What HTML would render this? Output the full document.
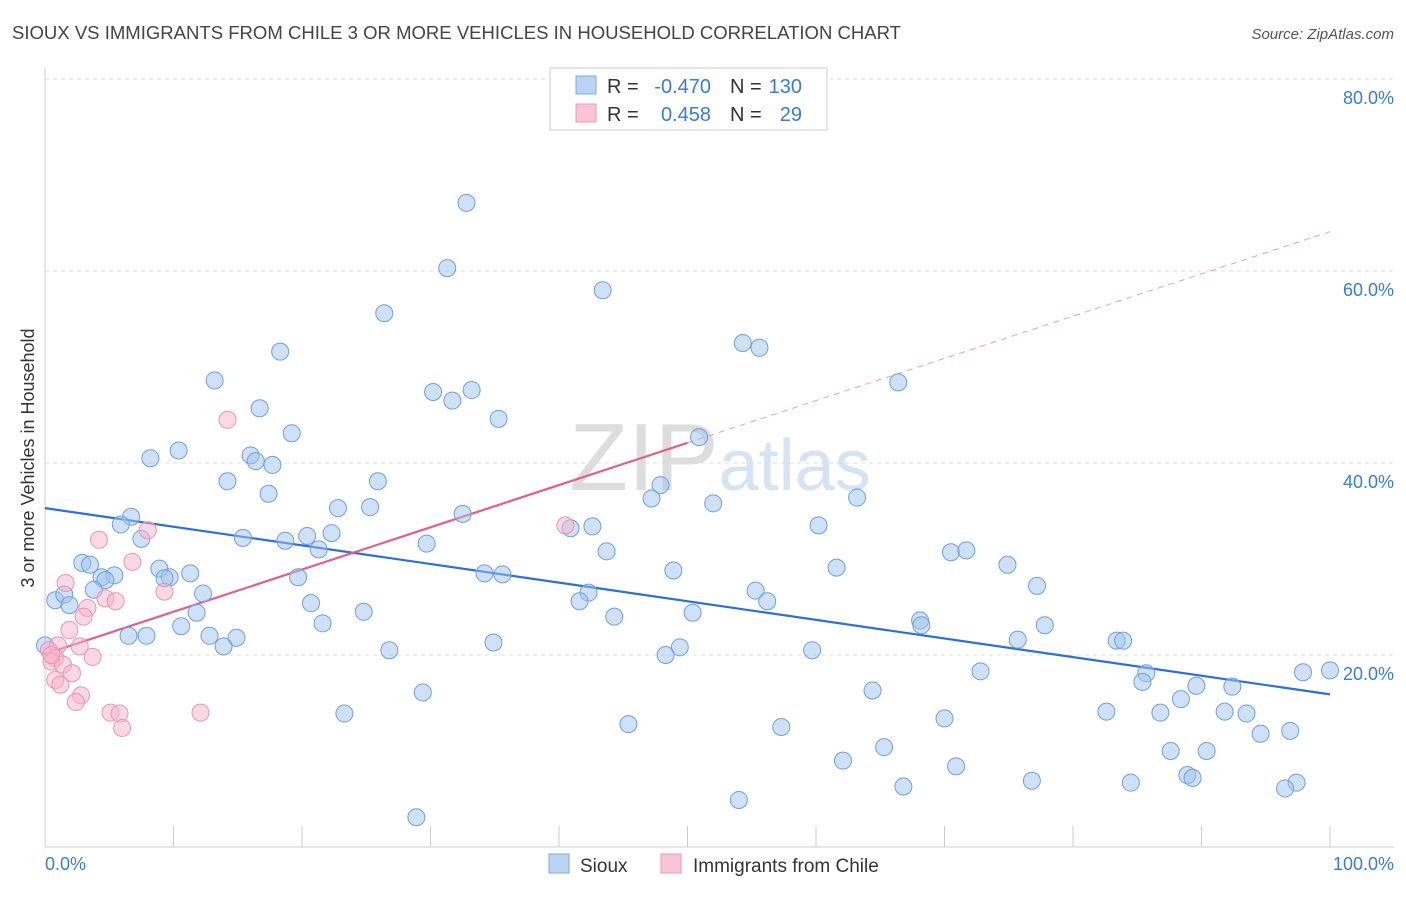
<!DOCTYPE html>
<html><head><meta charset="utf-8"><style>
body{margin:0;background:#fff;font-family:"Liberation Sans",sans-serif;}
svg text{font-family:"Liberation Sans",sans-serif;}
</style></head><body>
<svg id="chart" width="1406" height="892" viewBox="0 0 1406 892" xmlns="http://www.w3.org/2000/svg">
<text x="12" y="39" font-size="18.5" fill="#444" textLength="889" lengthAdjust="spacingAndGlyphs">SIOUX VS IMMIGRANTS FROM CHILE 3 OR MORE VEHICLES IN HOUSEHOLD CORRELATION CHART</text>
<text x="1394" y="39" font-size="15" fill="#555" text-anchor="end" font-style="italic">Source: ZipAtlas.com</text>
<text x="720" y="490" font-size="96" fill="#e4e4e4" text-anchor="middle" font-family="Liberation Serif"><tspan fill="#dddddd">ZIP</tspan><tspan fill="#d6e3f3" font-family="Liberation Sans" font-size="72">atlas</tspan></text>
<g id="grid"></g><g id="axes"></g><g id="trends"></g><g id="points"></g>
<text transform="translate(34,458) rotate(-90)" font-size="18" fill="#333" text-anchor="middle">3 or more Vehicles in Household</text>
<text x="45" y="870" font-size="18" fill="#3a7bd5">0.0%</text>
<text x="1394" y="870" font-size="18" fill="#3a7bd5" text-anchor="end">100.0%</text>
<g>
<rect x="550" y="68" width="277" height="62" fill="#fff" stroke="#ccc"/>
<rect x="576" y="76" width="20" height="18" fill="#bcd4f3" stroke="#7ea8e3"/>
<rect x="576" y="104" width="20" height="18" fill="#f9c5d5" stroke="#eb98b2"/>
<text x="607" y="93" font-size="20" fill="#333">R =</text>
<text x="711" y="93" font-size="20" fill="#3a7bd5" text-anchor="end">-0.470</text>
<text x="730" y="93" font-size="20" fill="#333">N =</text>
<text x="802" y="93" font-size="20" fill="#3a7bd5" text-anchor="end">130</text>
<text x="607" y="121" font-size="20" fill="#333">R =</text>
<text x="711" y="121" font-size="20" fill="#3a7bd5" text-anchor="end">0.458</text>
<text x="730" y="121" font-size="20" fill="#333">N =</text>
<text x="802" y="121" font-size="20" fill="#3a7bd5" text-anchor="end">29</text>
</g>
<g>
<rect x="549" y="854" width="20" height="19" fill="#bcd4f3" stroke="#7ea8e3"/>
<text x="580" y="872" font-size="19" fill="#333">Sioux</text>
<rect x="661" y="854" width="20" height="19" fill="#f9c5d5" stroke="#eb98b2"/>
<text x="693" y="872" font-size="19" fill="#333">Immigrants from Chile</text>
</g>
</svg>
<script>
const yTicks=[20,40,60,80];
const yTickLabels=["20.0%","40.0%","60.0%","80.0%"];
const xTicks=[0,10,20,30,40,50,60,70,80,90,100];
const siouxX=[32.8,31.3,43.4,26.4,18.3,54.3,55.6,13.2,66.4,30.2,33.2,31.7,16.7,35.3,19.2,50.9,10.4,8.2,16.0,16.4,17.7,14.2,25.9,17.4,47.9,47.2,63.2,52.0,22.8,25.3,32.5,6.7,5.9,42.6,60.2,40.9,7.5,15.4,18.7,20.4,22.3,29.7,21.3,43.7,70.5,71.7,74.9,2.9,3.5,8.9,61.6,48.9,4.4,5.4,9.7,9.3,11.3,4.7,34.2,35.6,19.7,77.2,3.8,0.8,1.5,1.9,12.3,42.3,55.3,41.6,56.2,20.7,50.4,11.8,24.8,44.3,68.1,68.2,21.6,10.6,77.8,6.5,7.9,12.8,14.9,13.9,75.7,83.4,83.9,34.9,49.4,48.3,26.8,59.7,0.0,97.9,100,72.8,85.7,85.4,89.6,92.4,64.4,88.4,29.4,23.3,70.0,82.6,86.8,91.8,93.5,45.4,57.3,96.9,94.6,65.3,87.6,90.4,62.1,70.9,88.9,89.3,76.8,84.5,97.4,96.5,66.8,54.0,28.9];
const siouxY=[67.1,60.3,58.0,55.6,51.6,52.5,52.0,48.6,48.4,47.4,47.6,46.5,45.7,44.6,43.1,42.7,41.3,40.5,40.8,40.2,39.8,38.1,38.1,36.8,37.7,36.3,36.4,35.8,35.3,35.4,34.7,34.4,33.6,33.4,33.5,33.2,32.1,32.2,31.9,32.4,32.7,31.6,31.0,30.8,30.7,30.9,29.4,29.6,29.4,29.0,29.1,28.8,28.1,28.3,28.1,28.0,28.5,27.8,28.5,28.4,28.1,27.2,26.8,25.7,26.3,25.2,26.4,26.5,26.7,25.6,25.6,25.4,24.4,24.4,24.5,24.0,23.6,23.1,23.3,23.0,23.1,22.0,22.0,22.0,21.8,20.9,21.6,21.5,21.5,21.3,20.8,20.0,20.5,20.5,21.0,18.2,18.4,18.3,18.1,17.2,16.8,16.7,16.3,15.4,16.1,13.9,13.4,14.1,14.0,14.1,13.9,12.8,12.5,12.1,11.8,10.4,10.0,10.0,9.0,8.4,7.5,7.2,6.9,6.7,6.7,6.1,6.3,4.9,3.1];
const chileX=[14.2,8.0,40.5,4.2,6.8,1.6,9.3,4.7,5.5,3.3,3.0,1.9,1.0,2.7,0.3,3.7,0.8,0.5,1.4,2.1,0.8,1.2,2.8,2.4,5.1,5.8,12.1,6.0,0.5];
const chileY=[44.5,33.0,33.5,32.0,29.7,27.5,26.6,25.9,25.6,24.9,24.0,22.6,21.0,20.9,20.5,19.8,19.7,19.3,19.0,18.1,17.4,16.9,15.8,15.1,14.0,13.9,14.0,12.4,20.0];
const siouxTrend=[35.3,15.9];
const chileTrend=[20.1,64.1];
const chileSolidEnd=50;

const X0=45,X1=1330,Y0=847,YS=9.6;
const sx=v=>X0+(X1-X0)*v/100;
const sy=v=>Y0-v*YS;
const NS="http://www.w3.org/2000/svg";
function mk(tag,attrs,parent){const e=document.createElementNS(NS,tag);for(const k in attrs)e.setAttribute(k,attrs[k]);parent.appendChild(e);return e;}
const grid=document.getElementById('grid'),axes=document.getElementById('axes'),trends=document.getElementById('trends'),pts=document.getElementById('points');
yTicks.forEach((t,i)=>{
 const l=mk('line',{x1:45,x2:1394,y1:sy(t),y2:sy(t),stroke:'#ddd','stroke-dasharray':'4,4'},grid);
 
 
 const tx=mk('text',{x:1394,y:sy(t)+25,'font-size':18,fill:'#3a7bd5','text-anchor':'end'},grid);
 tx.textContent=yTickLabels[i];
 
 
});
const tl=mk('line',{x1:45,x2:1394,y1:79,y2:79,stroke:'#ddd','stroke-dasharray':'4,4'},grid);


const ya=mk('line',{x1:45,x2:45,y1:68,y2:847,stroke:'#ccc'},axes);


const xa=mk('line',{x1:45,x2:1394,y1:847,y2:847,stroke:'#ccc'},axes);


xTicks.forEach(t=>{
 const l=mk('line',{x1:sx(t),x2:sx(t),y1:826,y2:847,stroke:'#ccc'},axes);
 
 
});
siouxX.forEach((x,i)=>{
 const c=mk('circle',{cx:sx(x),cy:sy(siouxY[i]),r:8.5,fill:'rgba(160,196,240,0.5)',stroke:'#6f9fe0','stroke-width':1},pts);
 
 
});
chileX.forEach((x,i)=>{
 const c=mk('circle',{cx:sx(x),cy:sy(chileY[i]),r:8.5,fill:'rgba(247,180,202,0.5)',stroke:'#e895b0','stroke-width':1},pts);
 
 
});
const bl=mk('line',{x1:sx(0),y1:sy(siouxTrend[0]),x2:sx(100),y2:sy(siouxTrend[1]),stroke:'#2d6fd6','stroke-width':2.2},trends);


const cm=chileTrend[0]+(chileTrend[1]-chileTrend[0])*chileSolidEnd/100;
const pl=mk('line',{x1:sx(0),y1:sy(chileTrend[0]),x2:sx(chileSolidEnd),y2:sy(cm),stroke:'#e0608a','stroke-width':2.2},trends);


const pd=mk('line',{x1:sx(chileSolidEnd),y1:sy(cm),x2:sx(100),y2:sy(chileTrend[1]),stroke:'#e8a0b8','stroke-width':1,'stroke-dasharray':'6,5'},trends);


</script>
</body></html>
